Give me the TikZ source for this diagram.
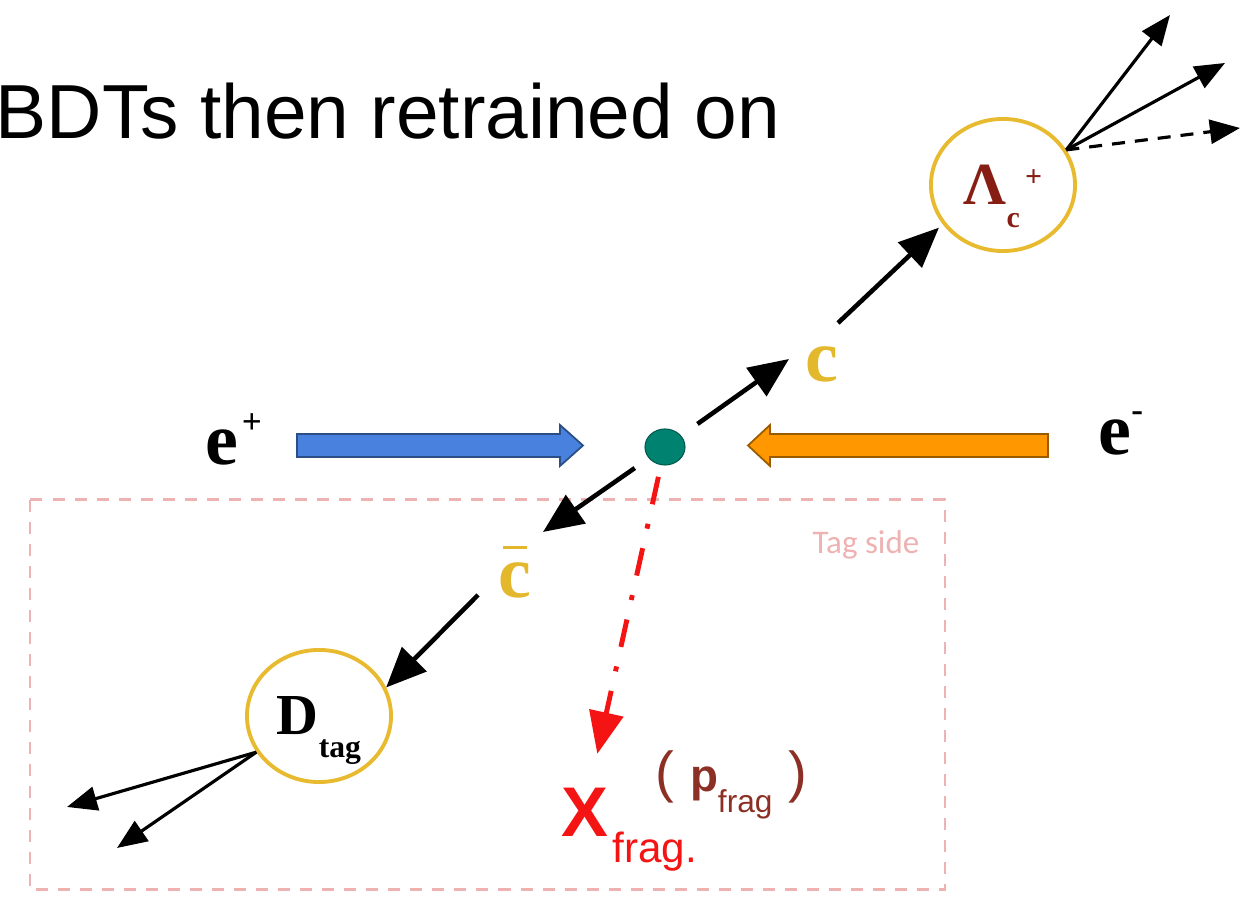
\documentclass[tikz,border=0pt]{standalone}
\usepackage{fontspec}
\setmainfont{Liberation Serif}
\setsansfont{Liberation Sans}
\newfontfamily\tagfont{Carlito}
\usetikzlibrary{shapes.geometric, arrows.meta, positioning, calc}
\definecolor{hadronring}{RGB}{232,186,48}
\definecolor{charmgold}{RGB}{228,184,44}
\definecolor{lambdared}{RGB}{135,30,20}
\definecolor{pfragbrown}{RGB}{140,48,38}
\definecolor{beamblue}{RGB}{72,130,222}
\definecolor{beamorange}{RGB}{255,152,0}
\definecolor{vtxteal}{RGB}{0,130,112}
\definecolor{tagpink}{RGB}{238,178,178}
\definecolor{fragred}{RGB}{245,20,20}
\newcommand{\fsz}[1]{\fontsize{#1}{#1}\selectfont}

\begin{document}
\begin{tikzpicture}[x=0.01cm, y=-0.01cm,
    hadron/.style={ellipse, draw=hadronring, line width=1.1pt,
                   minimum width=1.44cm, minimum height=1.32cm, inner sep=0pt},
    lepton/.style={font=\bfseries\fsz{21pt}, inner sep=0pt},
    quark/.style={font=\bfseries\fsz{21pt}, text=charmgold, inner sep=0pt},
    vertex/.style={ellipse, fill=vtxteal, draw=vtxteal!70!black, line width=0.3pt,
                   minimum width=0.4cm, minimum height=0.36cm, inner sep=0pt},
    track/.style={line width=1.3pt, -{Triangle[length=0.4cm, width=0.34cm]}},
    decay/.style={line width=0.9pt, -{Triangle[length=0.3cm, width=0.24cm]}},
    fragline/.style={line width=1.4pt, fragred,
                     dash pattern=on 0.28cm off 0.2cm on 0.05cm off 0.2cm,
                     -{Triangle[length=0.42cm, width=0.34cm]}},
    beamline/.style={line width=0.5pt},
    tagframe/.style={tagpink, line width=0.85pt, dash pattern=on 0.12cm off 0.1cm}]

\clip (0,0) rectangle (1241,898);

%% -- Title ---------------------------------------------------------------
\node[font=\sffamily\fsz{21.8pt}, anchor=base west, inner sep=0pt] (title)
    at (-5,139) {BDTs then retrained on};

%% -- Tag side frame ------------------------------------------------------
\draw[tagframe] (30,500) rectangle (945,890);
\node[font=\tagfont\fsz{9.4pt}, text=tagpink, anchor=base west, inner sep=0pt]
    (taglabel) at (812,554) {Tag side};

%% -- Beams -------------------------------------------------------------
\draw[beamline, fill=beamblue, draw=beamblue!60!black]
    (297,434) -- (560,434) -- (560,425) -- (583,445.5) -- (560,466)
    -- (560,457) -- (297,457) -- cycle;
\draw[beamline, fill=beamorange, draw=beamorange!60!black]
    (1048,434) -- (770,434) -- (770,425) -- (748,445.5) -- (770,466)
    -- (770,457) -- (1048,457) -- cycle;

\node[lepton, anchor=base west] (eplus) at (205,465)
    {e\hspace{1pt}\raisebox{9pt}{\fsz{10pt}+}};
\node[lepton, anchor=base west] (eminus) at (1098,455)
    {e\raisebox{9.5pt}{\fsz{10pt}-}};

%% -- Vertex, quarks and hadrons ------------------------------------------
\node[vertex] (ip) at (665,447) {};

\node[quark, anchor=base west] (cq) at (805,382) {c};
\node[quark, anchor=base west] (cbar) at (498,598)
    {c\llap{\rule[0.66em]{0.32em}{0.045em}\hspace{0.06em}}};

\node[hadron, text=lambdared, font=\bfseries\fsz{17pt}] (lambdac) at (1003,185)
    {Λ\smash{\raisebox{-6.5pt}{\fsz{8.5pt}c}}\hspace{1.5pt}\smash{\raisebox{5.3pt}{\fsz{8.5pt}+}}};
\node[hadron, font=\bfseries\fsz{16.5pt}] (dtag) at (319,716)
    {D\smash{\raisebox{-6.3pt}{\fsz{9pt}tag}}};

%% -- Fragmentation system ----------------------------------------------
\node[font=\sffamily\bfseries\fsz{20pt}, text=fragred, inner sep=0pt] (xfrag) at (584.5,812) {X};
\node[font=\sffamily\fsz{12pt}, text=fragred, inner sep=0pt, anchor=base west,
      xshift=0.03cm, yshift=-0.26cm] (xsub) at (xfrag.base east) {frag.};
\node[font=\sffamily\fsz{16pt}, text=pfragbrown, inner sep=0pt, anchor=base west]
    (pfrag) at (655,792)
    {( {\bfseries\fsz{13pt}p}\raisebox{-5.7pt}{\fsz{9pt}frag} )};

%% -- Tracks ------------------------------------------------------------
\coordinate (cin) at (789,359);
\coordinate (cout) at (838,323);
\coordinate (cbin) at (543,532);
\coordinate (cbout) at (478,595);

\draw[track, shorten <=0.2cm] (ip) -- (cin);
\draw[track, shorten >=0.05cm] (cout) -- (lambdac.213);
\draw[track, shorten <=0.17cm] (ip) -- (cbin);
\draw[track] (cbout) -- (dtag.23);

\draw[fragline, shorten <=0.12cm, shorten >=0.34cm] (ip) -- (xfrag);

%% Lambda_c decay products
\coordinate (ld1) at (1170,15);
\coordinate (ld2) at (1225,63);
\coordinate (ld3) at (1240,128);
\draw[decay] (lambdac.29) -- (ld1);
\draw[decay] (lambdac.29) -- (ld2);
\draw[decay, dash pattern=on 0.13cm off 0.1cm] (lambdac.29) -- (ld3);

%% D_tag decay products
\coordinate (dd1) at (67,807);
\coordinate (dd2) at (117,848);
\draw[decay] (dtag.210) -- (dd1);
\draw[decay] (dtag.210) -- (dd2);

\end{tikzpicture}
\end{document}
